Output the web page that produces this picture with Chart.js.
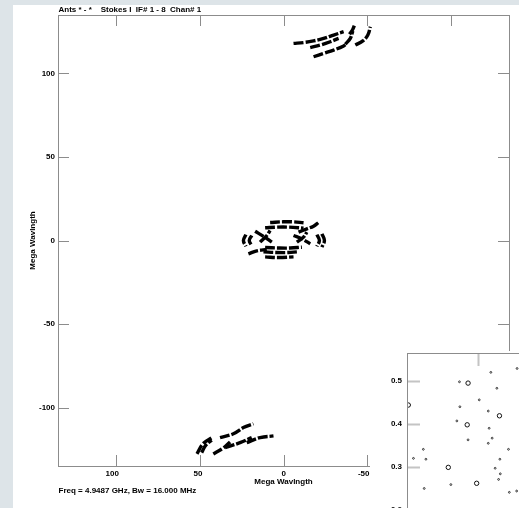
<!DOCTYPE html>
<html>
<head>
<meta charset="utf-8">
<script src="https://cdn.jsdelivr.net/npm/chart.js@4.4.1/dist/chart.umd.min.js"></script>
<style>
  html, body { margin: 0; padding: 0; width: 519px; height: 508px; overflow: hidden; background: #dde4e8; }
  #sheet { position: absolute; left: 13px; top: 5px; width: 506px; height: 503px; background: #fff; }
  #uv { position: absolute; left: 0; top: 0; }
  #inset { position: absolute; left: 370px; top: 351px; width: 149px; height: 157px; overflow: hidden; background: #fff; }
  #map { position: absolute; left: 0; top: 0; }
</style>
</head>
<body>
<div id="sheet"></div>
<canvas id="uv" width="519" height="508" style="width:519px;height:508px"></canvas>
<div id="inset"><canvas id="map" width="200" height="220" style="width:200px;height:220px"></canvas></div>
<script>
// ---- UV coverage, (u, v) in mega-wavelengths ----
const uTicks = [100, 50, 0, -50, -100];
const vTicks = [100, 50, 0, -50, -100];

const northTracks = [
  [[-6, 118], [-12, 118.5], [-18, 119.5], [-24, 121], [-30, 123], [-36, 125]],
  [[-16, 115.5], [-22, 117], [-28, 119], [-33, 121]],
  [[-18, 110], [-24, 112], [-30, 114], [-36, 116.5], [-38, 118]],
  [[-37, 117.5], [-40, 121], [-41.5, 125.5]],
  [[-39.5, 123.5], [-41.5, 126.5], [-42.5, 129]],
  [[-43, 117], [-47.5, 119.5], [-50.5, 123], [-52, 128]]
];

const southTracks = [
  [[51.8, -127.7], [48.2, -121.7], [42.8, -118]],
  [[49, -127], [46.5, -122.5], [43, -119.5]],
  [[42, -127.8], [36, -124.2], [32, -120.6]],
  [[38, -118], [30, -115.7], [24, -112], [18, -109.7]],
  [[35, -124], [26, -121], [19, -118]],
  [[22, -121], [14, -118], [6, -117]]
];

const centreTracks = [
  [[8, 10.8], [0, 11.2], [-6, 11.2], [-12, 10.6]],
  [[11, 7.6], [4, 8], [-3, 8], [-12, 7.4]],
  [[-9, 5], [-14, 7], [-18, 8.6], [-21, 10.8]],
  [[17, 5.5], [12, 2.5], [7, -1]],
  [[14, -1], [10, 3], [8, 6]],
  [[-6, 3], [-11, 1], [-16, -2]],
  [[-8, -1], [-12, 2], [-14, 5]],
  [[22.5, 3.5], [24, 0], [22.5, -3.5]],
  [[19, 3], [20.5, 0], [19, -3]],
  [[-20, 3.5], [-21.5, 0], [-20, -3.5]],
  [[-23, 4], [-24.5, 0], [-23, -4]],
  [[11, -4.2], [3, -4.5], [-4, -4.5], [-11, -4]],
  [[12, -6.8], [4, -7.2], [-3, -7.2], [-8, -6.8]],
  [[11, -9.8], [3, -10.2], [-6, -9.8]],
  [[21, -8], [16, -6.2], [10, -5.4]]
];

const plotTitle = 'Ants * - *    Stokes I  IF# 1 - 8  Chan# 1';
const plotFooter = 'Freq = 4.9487 GHz, Bw = 16.000 MHz';
const axisName = 'Mega Wavlngth';

// ---- clean-map inset: component positions (offset, offset) ----
const mapXTicks = [0.6, 0.4, 0.2];
const mapYTicks = [0.5, 0.4, 0.3, 0.2];
const mapRings = [
  [0.423, 0.495], [0.350, 0.419], [0.425, 0.398], [0.469, 0.299], [0.403, 0.262], [0.562, 0.444]
];
const mapSpots = [
  [0.370, 0.520], [0.309, 0.529], [0.443, 0.498], [0.356, 0.483], [0.397, 0.456],
  [0.442, 0.440], [0.376, 0.430], [0.449, 0.407], [0.374, 0.390], [0.367, 0.367],
  [0.423, 0.363], [0.376, 0.355], [0.329, 0.341], [0.527, 0.341], [0.550, 0.320],
  [0.521, 0.318], [0.349, 0.318], [0.360, 0.297], [0.348, 0.284], [0.352, 0.271],
  [0.463, 0.259], [0.525, 0.250], [0.327, 0.241], [0.310, 0.244]
];
const mapCorner = 0.565;      // offset at the top-left corner of the map box
const mapPxPerUnit = 430;     // map scale, same on both axes

const FONT = { family: '"Liberation Sans", Arial, Helvetica, sans-serif', size: 8, weight: 'bold' };
const FRAME = '#8c8c8c';

const toPoints = arr => arr.map(p => ({ x: p[0], y: p[1] }));
const trackSet = tracks => tracks.map(t => ({
  data: toPoints(t),
  showLine: true,
  borderColor: '#000',
  borderWidth: 3.4,
  borderDash: [10, 2],
  borderCapStyle: 'butt',
  tension: 0.4,
  pointRadius: 0
}));

// frame with inward tick marks on all four sides
function frameWithTicks(chart, len, tickColor, tickWidth) {
  const { ctx, chartArea: a, scales } = chart;
  ctx.save();
  ctx.strokeStyle = tickColor;
  ctx.lineWidth = tickWidth;
  scales.x.ticks.forEach(t => {
    const px = Math.round(scales.x.getPixelForValue(t.value)) + 0.5;
    if (px < a.left || px > a.right) return;
    ctx.beginPath();
    ctx.moveTo(px, a.top); ctx.lineTo(px, a.top + len);
    ctx.moveTo(px, a.bottom); ctx.lineTo(px, a.bottom - len);
    ctx.stroke();
  });
  scales.y.ticks.forEach(t => {
    const py = Math.round(scales.y.getPixelForValue(t.value)) + 0.5;
    if (py < a.top || py > a.bottom) return;
    ctx.beginPath();
    ctx.moveTo(a.left, py); ctx.lineTo(a.left + len, py);
    ctx.moveTo(a.right, py); ctx.lineTo(a.right - len, py);
    ctx.stroke();
  });
  ctx.strokeStyle = FRAME;
  ctx.lineWidth = 1;
  ctx.strokeRect(Math.round(a.left) + 0.5, Math.round(a.top) + 0.5,
                 Math.round(a.right - a.left), Math.round(a.bottom - a.top));
  ctx.restore();
}

// keep the plot box exactly where the layout padding puts it
const noEdgePadding = s => { s.paddingTop = 0; s.paddingBottom = 0; s.paddingLeft = 0; s.paddingRight = 0; };

const uvFrame = {
  id: 'uvFrame',
  afterDraw(chart) {
    frameWithTicks(chart, 11, FRAME, 1);
    const { ctx, chartArea: a } = chart;
    ctx.save();
    ctx.fillStyle = '#000';
    ctx.font = 'bold 8px "Liberation Sans", Arial, sans-serif';
    ctx.textBaseline = 'middle';
    ctx.textAlign = 'left';
    ctx.fillText(plotTitle, a.left + 0.5, 10);
    ctx.fillText(plotFooter, a.left + 0.5, 490.5);
    ctx.restore();
  }
};

const axisCommon = (ticks, fit) => ({
  type: 'linear',
  min: -135, max: 135,
  grid: { display: false, drawTicks: false },
  border: { display: false },
  ticks: { color: '#000', font: FONT, padding: 3, maxRotation: 0, autoSkip: false },
  afterBuildTicks: s => { s.ticks = ticks.map(v => ({ value: v })); },
  afterFit: s => { fit(s); noEdgePadding(s); }
});

new Chart(document.getElementById('uv'), {
  type: 'scatter',
  data: { datasets: [...trackSet(northTracks), ...trackSet(centreTracks), ...trackSet(southTracks)] },
  options: {
    responsive: false,
    animation: false,
    events: [],
    layout: { padding: { left: 13, top: 15, right: 10, bottom: 0 } },
    plugins: { legend: { display: false }, tooltip: { enabled: false } },
    scales: {
      x: Object.assign(axisCommon(uTicks, s => { s.height = 42; }), {
        reverse: true,
        ticks: { color: '#000', font: FONT, padding: 3, maxRotation: 0, autoSkip: false, align: 'end', labelOffset: 2.5 },
        title: { display: true, text: axisName, color: '#000', font: FONT, padding: { top: 0, bottom: 21 } }
      }),
      y: Object.assign(axisCommon(vTicks, s => { s.width = 45; }), {
        title: { display: true, text: axisName, color: '#000', font: FONT, padding: { top: 15, bottom: 0 } }
      })
    }
  },
  plugins: [uvFrame]
});

const mapFrame = {
  id: 'mapFrame',
  afterDraw(chart) { frameWithTicks(chart, 13, '#c4c4c4', 2); }
};

const mapCanvas = document.getElementById('map');
const mapChart = new Chart(mapCanvas, {
  type: 'scatter',
  data: {
    datasets: [
      { data: toPoints(mapRings), pointRadius: 2.2, pointBorderWidth: 1, pointBorderColor: '#111', pointBackgroundColor: 'rgba(0,0,0,0)' },
      { data: toPoints(mapSpots), pointRadius: 0.9, pointBorderWidth: 1, pointBorderColor: '#333', pointBackgroundColor: 'rgba(0,0,0,0)' }
    ]
  },
  options: {
    responsive: false,
    animation: false,
    events: [],
    layout: { padding: { left: 0, top: 4, right: 0, bottom: 0 } },
    plugins: { legend: { display: false }, tooltip: { enabled: false } },
    scales: {
      x: {
        type: 'linear', min: 0.188, max: mapCorner, reverse: true,
        grid: { display: false, drawTicks: false }, border: { display: false },
        ticks: { color: '#000', font: FONT, padding: 5, maxRotation: 0, autoSkip: false },
        afterBuildTicks: s => { s.ticks = mapXTicks.map(v => ({ value: v })); },
        afterFit: s => { s.height = 18; noEdgePadding(s); }
      },
      y: {
        type: 'linear', min: 0.1, max: mapCorner,
        grid: { display: false, drawTicks: false }, border: { display: false },
        ticks: { color: '#000', font: FONT, padding: 5, autoSkip: false, callback: v => v.toFixed(1) },
        afterBuildTicks: s => { s.ticks = mapYTicks.map(v => ({ value: v })); },
        afterFit: s => { s.width = 37; noEdgePadding(s); }
      }
    }
  },
  plugins: [mapFrame]
});

// equal-scale map: set the ranges from the laid-out box, then pin the box corner
(function () {
  const a = mapChart.chartArea;
  mapChart.options.scales.x.min = mapCorner - (a.right - a.left) / mapPxPerUnit;
  mapChart.options.scales.y.min = mapCorner - (a.bottom - a.top) / mapPxPerUnit;
  mapChart.update('none');
  const b = mapChart.chartArea;
  mapCanvas.style.left = (407 - 370 - b.left) + 'px';
  mapCanvas.style.top = (353 - 351 - b.top) + 'px';
})();
</script>
</body>
</html>
